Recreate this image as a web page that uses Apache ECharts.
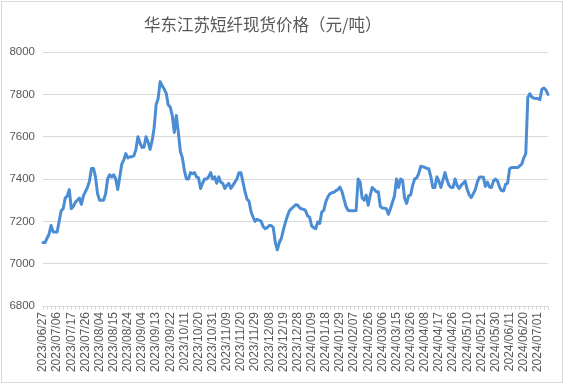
<!DOCTYPE html>
<html>
<head>
<meta charset="utf-8">
<script src="https://cdn.jsdelivr.net/npm/echarts@6/dist/echarts.min.js"></script>
<style>html,body{margin:0;padding:0;background:#fff;}#c{width:565px;height:385px;}</style>
</head>
<body>
<div id="c"></div>
<script>
var TITLE = '华东江苏短纤现货价格（元/吨）';
var DATES = [
'2023/06/27','2023/06/28','2023/06/29','2023/06/30',
'2023/07/03','2023/07/04','2023/07/05','2023/07/06','2023/07/07',
'2023/07/10','2023/07/11','2023/07/12','2023/07/13','2023/07/14',
'2023/07/17','2023/07/18','2023/07/19','2023/07/20','2023/07/21',
'2023/07/24','2023/07/25','2023/07/26','2023/07/27','2023/07/28',
'2023/07/31','2023/08/01','2023/08/02','2023/08/03','2023/08/04',
'2023/08/07','2023/08/08','2023/08/09','2023/08/10','2023/08/11',
'2023/08/14','2023/08/15','2023/08/16','2023/08/17','2023/08/18',
'2023/08/21','2023/08/22','2023/08/23','2023/08/24','2023/08/25',
'2023/08/28','2023/08/29','2023/08/30','2023/08/31','2023/09/01',
'2023/09/04','2023/09/05','2023/09/06','2023/09/07','2023/09/08',
'2023/09/11','2023/09/12','2023/09/13','2023/09/14','2023/09/15',
'2023/09/18','2023/09/19','2023/09/20','2023/09/21','2023/09/22',
'2023/09/25','2023/09/26','2023/09/27','2023/09/28',
'2023/10/09','2023/10/10','2023/10/11','2023/10/12','2023/10/13',
'2023/10/16','2023/10/17','2023/10/18','2023/10/19','2023/10/20',
'2023/10/23','2023/10/24','2023/10/25','2023/10/26','2023/10/27',
'2023/10/30','2023/10/31','2023/11/01','2023/11/02','2023/11/03',
'2023/11/06','2023/11/07','2023/11/08','2023/11/09','2023/11/10',
'2023/11/13','2023/11/14','2023/11/15','2023/11/16','2023/11/17',
'2023/11/20','2023/11/21','2023/11/22','2023/11/23','2023/11/24',
'2023/11/27','2023/11/28','2023/11/29','2023/11/30','2023/12/01',
'2023/12/04','2023/12/05','2023/12/06','2023/12/07','2023/12/08',
'2023/12/11','2023/12/12','2023/12/13','2023/12/14','2023/12/15',
'2023/12/18','2023/12/19','2023/12/20','2023/12/21','2023/12/22',
'2023/12/25','2023/12/26','2023/12/27','2023/12/28','2023/12/29',
'2024/01/02','2024/01/03','2024/01/04','2024/01/05',
'2024/01/08','2024/01/09','2024/01/10','2024/01/11','2024/01/12',
'2024/01/15','2024/01/16','2024/01/17','2024/01/18','2024/01/19',
'2024/01/22','2024/01/23','2024/01/24','2024/01/25','2024/01/26',
'2024/01/29','2024/01/30','2024/01/31','2024/02/01','2024/02/02',
'2024/02/05','2024/02/06','2024/02/07','2024/02/08',
'2024/02/19','2024/02/20','2024/02/21','2024/02/22','2024/02/23',
'2024/02/26','2024/02/27','2024/02/28','2024/02/29','2024/03/01',
'2024/03/04','2024/03/05','2024/03/06','2024/03/07','2024/03/08',
'2024/03/11','2024/03/12','2024/03/13','2024/03/14','2024/03/15',
'2024/03/18','2024/03/19','2024/03/20','2024/03/21','2024/03/22',
'2024/03/25','2024/03/26','2024/03/27','2024/03/28','2024/03/29',
'2024/04/01','2024/04/02','2024/04/03',
'2024/04/08','2024/04/09','2024/04/10','2024/04/11','2024/04/12',
'2024/04/15','2024/04/16','2024/04/17','2024/04/18','2024/04/19',
'2024/04/22','2024/04/23','2024/04/24','2024/04/25','2024/04/26',
'2024/04/29','2024/04/30',
'2024/05/06','2024/05/07','2024/05/08','2024/05/09','2024/05/10',
'2024/05/13','2024/05/14','2024/05/15','2024/05/16','2024/05/17',
'2024/05/20','2024/05/21','2024/05/22','2024/05/23','2024/05/24',
'2024/05/27','2024/05/28','2024/05/29','2024/05/30','2024/05/31',
'2024/06/03','2024/06/04','2024/06/05','2024/06/06','2024/06/07',
'2024/06/11','2024/06/12','2024/06/13','2024/06/14',
'2024/06/17','2024/06/18','2024/06/19','2024/06/20','2024/06/21',
'2024/06/24','2024/06/25','2024/06/26','2024/06/27','2024/06/28',
'2024/07/01','2024/07/02','2024/07/03','2024/07/04','2024/07/05',
'2024/07/08'
];
var PRICES = [
7100,7100,7120,7140,7180,7150,7150,7150,7200,7250,
7260,7310,7320,7350,7260,7270,7290,7300,7310,7280,
7320,7340,7360,7390,7450,7450,7410,7330,7300,7300,
7300,7330,7400,7420,7410,7420,7400,7350,7410,7470,
7490,7520,7500,7505,7505,7510,7540,7600,7570,7550,
7550,7600,7575,7540,7580,7640,7750,7780,7860,7840,
7825,7805,7750,7740,7700,7620,7700,7620,7530,7500,
7440,7400,7400,7430,7425,7430,7410,7405,7355,7380,
7400,7400,7410,7430,7400,7410,7380,7410,7385,7380,
7355,7370,7380,7355,7370,7385,7400,7430,7430,7385,
7340,7305,7295,7245,7220,7200,7210,7205,7200,7175,
7165,7170,7180,7180,7170,7100,7065,7100,7120,7160,
7195,7225,7250,7260,7268,7278,7277,7265,7258,7257,
7250,7225,7220,7178,7170,7165,7197,7190,7244,7252,
7292,7315,7330,7335,7337,7345,7350,7362,7340,7305,
7270,7252,7250,7250,7250,7251,7400,7385,7310,7300,
7324,7276,7324,7360,7350,7340,7340,7270,7263,7262,
7260,7233,7260,7290,7320,7400,7360,7400,7395,7310,
7285,7320,7325,7370,7400,7405,7425,7460,7458,7455,
7450,7448,7410,7360,7360,7410,7390,7360,7395,7430,
7395,7370,7360,7360,7400,7370,7355,7370,7380,7390,
7350,7325,7312,7330,7350,7385,7408,7410,7408,7365,
7385,7362,7360,7390,7400,7390,7362,7345,7343,7375,
7380,7448,7454,7454,7454,7454,7462,7470,7500,7520,
7785,7803,7787,7782,7780,7780,7775,7825,7830,7820,
7800
];
var Y_MIN = 6800, Y_MAX = 8000, Y_STEP = 200;

var chart = echarts.init(document.getElementById('c'), null, {renderer: 'canvas'});
chart.setOption({
  backgroundColor: '#ffffff',
  animation: false,
  title: {
    text: TITLE,
    left: 139,
    top: 11,
    textStyle: {fontFamily: 'Noto Sans CJK SC', fontSize: 16.5, fontWeight: 'normal', color: '#595959'}
  },
  graphic: [{
    type: 'rect',
    shape: {x: 1.5, y: 1.5, width: 561, height: 381},
    style: {fill: 'none', stroke: '#d9d9d9', lineWidth: 1},
    silent: true
  }],
  grid: {left: 43, right: 17, top: 52, bottom: 79, containLabel: false},
  xAxis: {
    type: 'category',
    data: DATES,
    boundaryGap: false,
    axisLine: {show: true, lineStyle: {color: '#d9d9d9', width: 1}},
    axisTick: {show: true, interval: 1, length: 4, lineStyle: {color: '#d9d9d9'}},
    axisLabel: {
      interval: 6, rotate: 90, color: '#595959', fontSize: 12,
      fontFamily: 'Liberation Sans, Arial, sans-serif', margin: 6
    },
    splitLine: {show: false}
  },
  yAxis: {
    type: 'value',
    min: Y_MIN, max: Y_MAX, interval: Y_STEP,
    axisLine: {show: false},
    axisTick: {show: false},
    axisLabel: {
      color: '#595959', fontSize: 11.5, fontFamily: 'Liberation Sans, Arial, sans-serif', margin: 8,
      formatter: function (v) { return String(v); }
    },
    splitLine: {show: true, lineStyle: {color: '#d9d9d9', width: 1}}
  },
  series: [{
    type: 'line',
    data: PRICES,
    showSymbol: false,
    symbol: 'none',
    lineStyle: {color: '#4b8dd5', width: 3, join: 'round', cap: 'round'},
    itemStyle: {color: '#4b8dd5'}
  }]
});
</script>
</body>
</html>
